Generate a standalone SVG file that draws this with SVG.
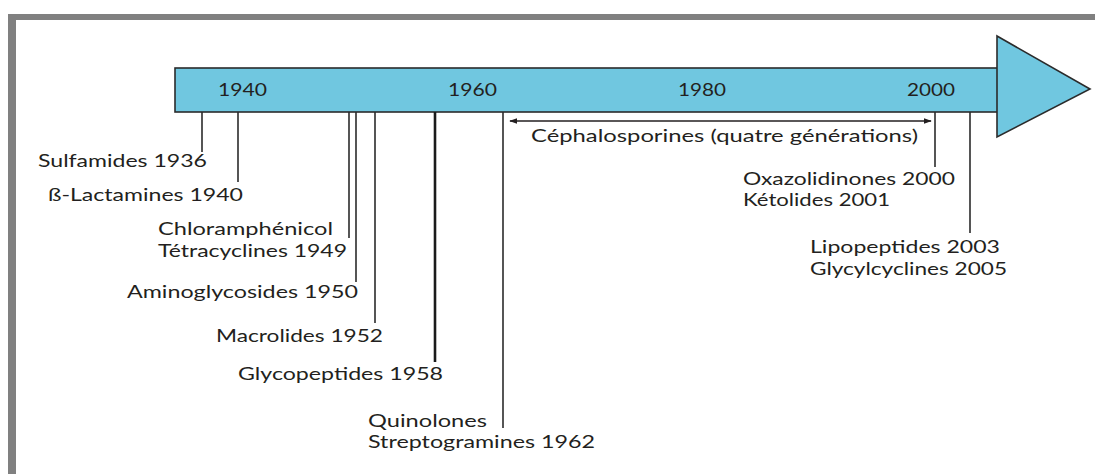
<svg xmlns="http://www.w3.org/2000/svg" width="1095" height="474" viewBox="0 0 1095 474">
<style>
.t{font-family:Lato,"Open Sans","Liberation Sans",sans-serif;font-size:17px;fill:#231f20}
.tick{stroke:#2b2b2b;stroke-width:1.6;fill:none}
.thick{stroke:#1a1a1a;stroke-width:2.6;fill:none}
.bar{fill:#70c7e0;stroke:#2b2b2b;stroke-width:1.6}
</style>
<defs>
<marker id="ah" viewBox="0 0 10 10" refX="9" refY="5" markerWidth="8" markerHeight="8" markerUnits="userSpaceOnUse" orient="auto-start-reverse">
<path d="M0,1.5 L10,5 L0,8.5 Z" fill="#231f20"/>
</marker>
</defs>
<rect width="1095" height="474" fill="#ffffff"/>
<g id="frame" fill="#808080">
<rect x="8" y="14" width="8" height="460"/>
<rect x="8" y="14" width="1087" height="6"/>
</g>
<g id="timeline">
<rect class="bar" x="175" y="68" width="824" height="44"/>
<polygon class="bar" points="997,36 1090,89 997,137"/>
<text class="t" x="218" y="96" textLength="49" lengthAdjust="spacingAndGlyphs">1940</text>
<text class="t" x="448" y="96" textLength="49" lengthAdjust="spacingAndGlyphs">1960</text>
<text class="t" x="678" y="96" textLength="48" lengthAdjust="spacingAndGlyphs">1980</text>
<text class="t" x="907" y="96" textLength="48" lengthAdjust="spacingAndGlyphs">2000</text>
</g>
<g id="connectors">
<line class="tick" x1="202" y1="112" x2="202" y2="152"/>
<line class="tick" x1="238" y1="112" x2="238" y2="182"/>
<line class="tick" x1="349" y1="112" x2="349" y2="238"/>
<line class="tick" x1="356" y1="112" x2="356" y2="282"/>
<line class="tick" x1="375" y1="112" x2="375" y2="323"/>
<line class="thick" x1="435" y1="112" x2="435" y2="362"/>
<line class="tick" x1="503" y1="112" x2="503" y2="428"/>
<line class="tick" x1="935" y1="112" x2="935" y2="167"/>
<line class="tick" x1="970" y1="112" x2="970" y2="233"/>
<line stroke="#231f20" stroke-width="1.3" x1="510" y1="121" x2="931" y2="121" marker-start="url(#ah)" marker-end="url(#ah)"/>
</g>
<g id="labels">
<text class="t" x="38" y="167" textLength="169" lengthAdjust="spacingAndGlyphs">Sulfamides 1936</text>
<text class="t" x="48" y="201" textLength="195" lengthAdjust="spacingAndGlyphs">ß-Lactamines 1940</text>
<text class="t" x="158" y="235" textLength="175" lengthAdjust="spacingAndGlyphs">Chloramphénicol</text>
<text class="t" x="158" y="256.5" textLength="189" lengthAdjust="spacingAndGlyphs">Tétracyclines 1949</text>
<text class="t" x="127" y="298" textLength="231" lengthAdjust="spacingAndGlyphs">Aminoglycosides 1950</text>
<text class="t" x="216" y="342" textLength="167" lengthAdjust="spacingAndGlyphs">Macrolides 1952</text>
<text class="t" x="238" y="380" textLength="205" lengthAdjust="spacingAndGlyphs">Glycopeptides 1958</text>
<text class="t" x="368" y="426.5" textLength="119" lengthAdjust="spacingAndGlyphs">Quinolones</text>
<text class="t" x="368" y="448" textLength="227" lengthAdjust="spacingAndGlyphs">Streptogramines 1962</text>
<text class="t" x="531" y="142" textLength="387" lengthAdjust="spacingAndGlyphs">Céphalosporines (quatre générations)</text>
<text class="t" x="743" y="184.5" textLength="212" lengthAdjust="spacingAndGlyphs">Oxazolidinones 2000</text>
<text class="t" x="743" y="205.5" textLength="147" lengthAdjust="spacingAndGlyphs">Kétolides 2001</text>
<text class="t" x="810" y="253" textLength="190" lengthAdjust="spacingAndGlyphs">Lipopeptides 2003</text>
<text class="t" x="810" y="275" textLength="197" lengthAdjust="spacingAndGlyphs">Glycylcyclines 2005</text>
</g>
</svg>
